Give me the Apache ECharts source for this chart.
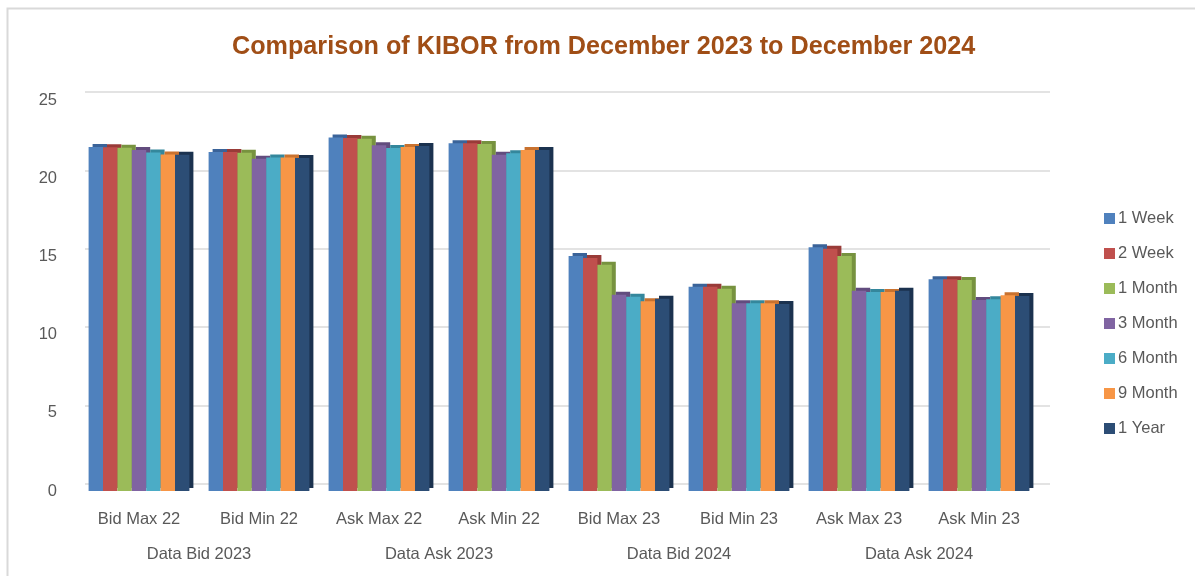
<!DOCTYPE html>
<html>
<head>
<meta charset="utf-8">
<script src="https://cdn.jsdelivr.net/npm/echarts@6/dist/echarts.min.js"></script>
<style>html,body{margin:0;padding:0;background:#fff}#c{width:1195px;height:576px}</style>
</head>
<body>
<div id="c"></div>
<script>
const categories = ["Bid Max 22","Bid Min 22","Ask Max 22","Ask Min 22","Bid Max 23","Bid Min 23","Ask Max 23","Ask Min 23"];
const groups = ["Data Bid 2023","Data Ask 2023","Data Bid 2024","Data Ask 2024"];
const seriesNames = ["1 Week","2 Week","1 Month","3 Month","6 Month","9 Month","1 Year"];
const week1  = [22.0, 21.67, 22.6, 22.23, 15.03, 13.06, 15.58, 13.54];
const week2  = [21.98, 21.67, 22.57, 22.23, 14.9, 13.06, 15.49, 13.54];
const month1 = [21.95, 21.63, 22.53, 22.19, 14.47, 12.93, 15.03, 13.49];
const month3 = [21.8, 21.25, 22.1, 21.5, 12.55, 12.0, 12.81, 12.21];
const month6 = [21.65, 21.33, 21.93, 21.6, 12.42, 12.0, 12.72, 12.26];
const month9 = [21.52, 21.33, 22.0, 21.8, 12.13, 12.0, 12.72, 12.51];
const year1  = [21.5, 21.29, 22.06, 21.8, 12.3, 11.96, 12.81, 12.47];
const yTicks = {min: 0, max: 25, interval: 5};

const values = [week1, week2, month1, month3, month6, month9, year1];
const colors = ["#4F81BD","#C0504D","#9BBB59","#8064A2","#4BACC6","#F79646","#2C4D75"];
const sideColors = ["#3A6399","#993B38","#77923F","#624C7E","#34879C","#C9722F","#1B324F"];

const chart = echarts.init(document.getElementById('c'));
const axisText = {color:"#595959", fontSize:16.5, fontFamily:"Liberation Sans"};
chart.setOption({
  animation:false,
  title:{text:"Comparison of KIBOR from December 2023 to December 2024", left:227, top:30,
    textStyle:{color:"#A04E16", fontSize:25.2, fontWeight:"bold", fontFamily:"Liberation Sans"}},
  graphic:[{type:"rect", shape:{x:7.5,y:8.5,width:1300,height:700}, style:{fill:null, stroke:"#d9d9d9", lineWidth:2}, silent:true, z:-10}],
  legend:{orient:"vertical", left:1099, top:205, itemWidth:11, itemHeight:11, itemGap:18,
    data:seriesNames, icon:"rect", textStyle:{...axisText, padding:[0,0,0,-2]}},
  grid:[{left:79, right:156, top:100, bottom:85},
        {left:85, right:145, top:92, bottom:92}],
  xAxis:[
    {type:"category", gridIndex:0, data:categories, axisLine:{show:false}, axisTick:{show:false},
      axisLabel:{...axisText, margin:20}},
    {type:"category", gridIndex:0, data:groups, position:"bottom", offset:35, axisLine:{show:false}, axisTick:{show:false},
      axisLabel:{...axisText, margin:20}},
    {type:"category", gridIndex:1, data:categories, show:false}
  ],
  yAxis:[
    {type:"value", gridIndex:0, min:yTicks.min, max:yTicks.max, interval:yTicks.interval,
      axisLabel:{...axisText, margin:22}, splitLine:{show:false}, axisLine:{show:false}, axisTick:{show:false}},
    {type:"value", gridIndex:1, min:yTicks.min, max:yTicks.max, interval:yTicks.interval,
      axisLabel:{show:false}, axisLine:{show:false}, axisTick:{show:false},
      splitLine:{show:true, lineStyle:{color:"#e3e3e3", width:2}}}
  ],
  series: seriesNames.map((n,i)=>({
    name:n, type:"bar", xAxisIndex:0, yAxisIndex:0, data:values[i],
    barGap:"0%", barCategoryGap:"16%",
    itemStyle:{color:colors[i], shadowColor:sideColors[i], shadowOffsetX:4, shadowOffsetY:-3, shadowBlur:0}
  }))
});
</script>
</body>
</html>
